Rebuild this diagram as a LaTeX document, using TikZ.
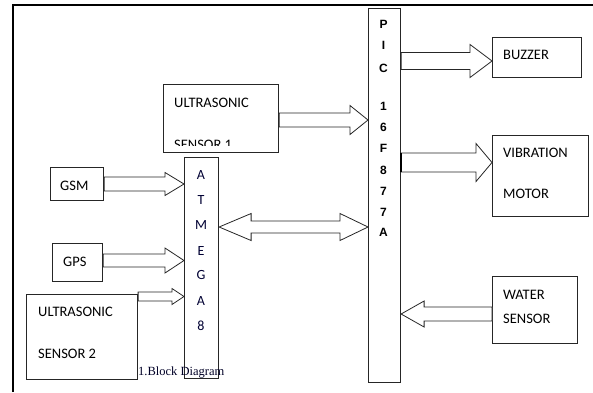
\documentclass[tikz,border=0pt]{standalone}
\usepackage{fontspec}
\usetikzlibrary{calc}
\newfontfamily\calfont{Carlito}
\newfontfamily\picfont{Liberation Sans}
\newfontfamily\capfont{Liberation Serif}
\newcommand\blkarrow[5]{%
  \coordinate (hb) at ($(#2)!#5pt!(#1)$);
  \draw[barrow] ($(#1)+(0,#3)$) -- ($(hb)+(0,#3)$) -- ($(hb)+(0,#4)$) -- (#2) -- ($(hb)+(0,-#4)$) -- ($(hb)+(0,-#3)$) -- ($(#1)+(0,-#3)$) -- cycle;}
\begin{document}
\begin{tikzpicture}[x=1pt,y=-1pt,
  blk/.style={draw=black!85, line width=1.1pt, fill=white, rectangle, inner sep=0pt, anchor=north west},
  lbl/.style={font=\calfont\fontsize{14.5}{16}\selectfont, anchor=west, inner sep=0pt, text=black},
  atml/.style={font=\calfont\fontsize{14}{15}\selectfont, inner sep=0pt, text=black!80!blue},
  picl/.style={font=\picfont\bfseries\fontsize{12}{13}\selectfont, inner sep=0pt, text=black},
  barrow/.style={draw=black!85, line width=0.8pt, fill=white, line join=miter},
  frame/.style={draw=black, line width=1.8pt}]
\useasboundingbox (0,0) rectangle (593,392);
% frame
\coordinate (fb) at (13,392);
\coordinate (ftl) at (13,5);
\coordinate (ftr) at (593,5);
\draw[frame] (fb) -- (ftl) -- (ftr);
% boxes
\node[blk, minimum width=115pt, minimum height=68pt] (us1) at (163,84) {};
\node[blk, minimum width=53pt, minimum height=33pt] (gsm) at (50,167) {};
\node[blk, minimum width=50pt, minimum height=38pt] (gps) at (52,243) {};
\node[blk, minimum width=111pt, minimum height=85pt] (us2) at (26,294) {};
\node[blk, minimum width=34pt, minimum height=221pt] (atm) at (184,157) {};
\node[blk, minimum width=32pt, minimum height=374pt] (pic) at (368,8) {};
\node[blk, minimum width=89pt, minimum height=40pt] (buz) at (492,37) {};
\node[blk, minimum width=96pt, minimum height=81pt] (vib) at (492,135) {};
\node[blk, minimum width=85pt, minimum height=67pt] (wat) at (492,276) {};
% labels
\node[lbl] (t1) at (174,103) {ULTRASONIC};
\begin{scope}
  \clip (163,84) rectangle (278,145);
  \node[lbl] (t2) at (174,144.5) {SENSOR 1};
\end{scope}
\node[lbl] (t3) at (60,186) {GSM};
\node[lbl] (t4) at (63,262) {GPS};
\node[lbl] (t5) at (38,312) {ULTRASONIC};
\node[lbl] (t6) at (38,354) {SENSOR 2};
\node[lbl] (t7) at (503,55) {BUZZER};
\node[lbl] (t8) at (503,153) {VIBRATION};
\node[lbl] (t9) at (503,194) {MOTOR};
\node[lbl] (t10) at (503,295) {WATER};
\node[lbl] (t11) at (503,319) {SENSOR};
\foreach \ch/\yy [count=\i] in {A/175,T/200,M/225,E/251,G/275,A/301,8/326}
  \node[atml] (atm\i) at (201,\yy) {\ch};
\foreach \ch/\yy [count=\i] in {P/24,I/45,C/68,1/106,6/127,F/148,8/170,7/191,7/212,A/232}
  \node[picl] (pic\i) at (383.5,\yy) {\ch};
% arrow rows
\coordinate (yA) at (0,184);
\coordinate (yB) at (0,260.5);
\coordinate (yC) at (0,296.5);
\coordinate (yU) at (0,120);
\coordinate (yZ) at (0,61);
\coordinate (yV) at (0,162.5);
\coordinate (yW) at (0,314);
\coordinate (yD) at (0,227);
\coordinate (a1) at (gsm.east |- yA); \coordinate (a2) at (atm.west |- yA);
\coordinate (b1) at (gps.east |- yB); \coordinate (b2) at (atm.west |- yB);
\coordinate (c1) at (us2.east |- yC); \coordinate (c2) at (atm.west |- yC);
\coordinate (u1) at (us1.east |- yU); \coordinate (u2) at (pic.west |- yU);
\coordinate (z1) at (pic.east |- yZ); \coordinate (z2) at (buz.west |- yZ);
\coordinate (v1) at (pic.east |- yV); \coordinate (v2) at (vib.west |- yV);
\coordinate (w1) at (wat.west |- yW); \coordinate (w2) at (pic.east |- yW);
\blkarrow{a1}{a2}{7}{11.5}{19}
\blkarrow{b1}{b2}{6.5}{12.5}{19}
\blkarrow{c1}{c2}{4.5}{8}{12}
\blkarrow{u1}{u2}{7}{14.5}{18}
\blkarrow{z1}{z2}{8.5}{16.5}{22}
\blkarrow{v1}{v2}{9.5}{19}{16}
\draw[line width=2pt, black] ($(v1)+(0,-9.5)$) -- ($(v1)+(0,9.5)$);
\blkarrow{w1}{w2}{7}{13}{23}
% double arrow
\coordinate (dL) at (atm.east |- yD);
\coordinate (dR) at (pic.west |- yD);
\coordinate (hbL) at ($(dL)!32pt!(dR)$);
\coordinate (hbR) at ($(dR)!28pt!(dL)$);
\draw[barrow] (dL) -- ($(hbL)+(0,-13.5)$) -- ($(hbL)+(0,-6)$) -- ($(hbR)+(0,-6)$) -- ($(hbR)+(0,-13.5)$) -- (dR) -- ($(hbR)+(0,13.5)$) -- ($(hbR)+(0,6)$) -- ($(hbL)+(0,6)$) -- ($(hbL)+(0,13.5)$) -- cycle;
% caption
\node[font=\capfont\fontsize{12.5}{14}\selectfont, text=black!85!blue, anchor=west, inner sep=0pt] (cap) at (138,372) {1.Block Diagram};
\end{tikzpicture}
\end{document}
